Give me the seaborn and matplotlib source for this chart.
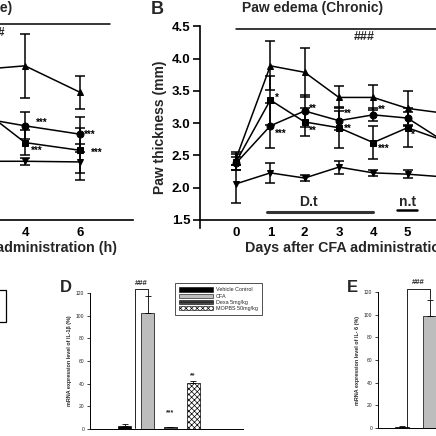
import numpy as np
import pandas as pd
import matplotlib
matplotlib.use("Agg")
import matplotlib.pyplot as plt
import seaborn as sns
from matplotlib.patches import Rectangle, Patch

sns.set_theme(style="ticks")
plt.rcParams['font.family'] = ['Liberation Sans', 'DejaVu Sans']

# ---------------- data ----------------
groups = ["Vehicle Control", "CFA", "Dexa 5mg/kg", "MOPBS 50mg/kg"]

# Panel A (acute, hours) - only the visible part
hours = [2, 4, 6]
acute_cfa = [3.82, 3.89, 3.48]
acute_cfa_err = [0.40, 0.50, 0.26]
acute_mopbs = [3.11, 2.96, 2.83]
acute_mopbs_err = [0.20, 0.21, 0.27]
acute_dexa = [3.36, 2.70, 2.58]
acute_dexa_err = [0.25, 0.20, 0.35]
acute_veh = [2.41, 2.41, 2.40]
acute_veh_err = [0.05, 0.05, 0.28]

# Panel B (chronic, days)
days = [0, 1, 2, 3, 4, 5, 6]
chr_cfa = [2.45, 3.89, 3.79, 3.40, 3.40, 3.23, 3.16]
chr_cfa_err = [0.10, 0.38, 0.38, 0.17, 0.20, 0.27, 0.20]
chr_dexa = [2.40, 3.36, 3.02, 2.93, 2.70, 2.93, 2.74]
chr_dexa_err = [0.12, 0.38, 0.22, 0.32, 0.25, 0.30, 0.20]
chr_mopbs = [2.38, 2.96, 3.19, 3.04, 3.13, 3.08, 2.74]
chr_mopbs_err = [0.10, 0.35, 0.25, 0.15, 0.10, 0.10, 0.15]
chr_veh = [2.06, 2.23, 2.15, 2.32, 2.23, 2.21, 2.17]
chr_veh_err = [0.30, 0.15, 0.05, 0.10, 0.05, 0.06, 0.05]

# Panel D (IL-1b)
il1b = [3.0, 102.0, 1.5, 41.0]
il1b_err = [1.0, 15.0, 0.5, 1.5]
# Panel E (IL-6), visible bars
il6_groups = ["Vehicle Control", "CFA"]
il6 = [1.0, 99.0]
il6_err = [0.5, 14.0]

thick_ticks = [1.5, 2.0, 2.5, 3.0, 3.5, 4.0, 4.5]
thick_ticklabels = ["1.5", "2.0", "2.5", "3.0", "3.5", "4.0", "4.5"]
hour_ticks = [4, 6]
bar_ticks = [0, 20, 40, 60, 80, 100, 120]

# ---------------- layout helpers ----------------
W = H = 436.0
fig = plt.figure(figsize=(4.36, 4.36), dpi=100)


def ax_px(left, top, width, height):
    return fig.add_axes([left / W, 1 - (top + height) / H, width / W, height / H])


marker_map = {"CFA": "^", "Dexa": "s", "MOPBS": "o", "Vehicle": "v"}
LW = 1.1
TICK_FS = 9.5


def line_panel(ax, x, series):
    rows = []
    for name, vals, errs in series:
        for xi, v in zip(x, vals):
            rows.append({"x": xi, "y": v, "g": name})
    df = pd.DataFrame(rows)
    sns.lineplot(data=df, x="x", y="y", style="g", markers=marker_map,
                 dashes=False, color="black", legend=False, ax=ax,
                 markersize=5, linewidth=LW, markeredgecolor="black",
                 clip_on=False)
    for name, vals, errs in series:
        ax.errorbar(x, vals, yerr=errs, fmt="none", ecolor="black",
                    elinewidth=LW, capsize=3.5, capthick=LW, clip_on=False)
    for s in ["top", "right"]:
        ax.spines[s].set_visible(False)
    ax.spines["bottom"].set_position(("data", 1.5))
    for s in ["left", "bottom"]:
        ax.spines[s].set_linewidth(1.2)
        ax.spines[s].set_color("black")
    ax.set_ylim(1.38, 4.5)
    ax.set_yticks(thick_ticks)
    ax.set_yticklabels(thick_ticklabels)
    ax.tick_params(axis="y", length=5, width=1.2, labelsize=TICK_FS, pad=2, colors="black")
    ax.tick_params(axis="x", length=0, labelsize=TICK_FS, pad=5, colors="black")
    for lab in ax.get_xticklabels() + ax.get_yticklabels():
        lab.set_fontweight("bold")
    ax.set_xlabel("")
    ax.set_ylabel("")
    ax.patch.set_alpha(0)


star_kw = dict(fontsize=7, fontweight="bold", va="center", ha="left", color="black")

# ---------------- Panel A ----------------
axA = ax_px(25 - 5 * 27.5, 26.5, 8.93 * 27.5, 201.2)
axA.set_xlim(-1, 7.93)
line_panel(axA, hours, [("CFA", acute_cfa, acute_cfa_err),
                        ("MOPBS", acute_mopbs, acute_mopbs_err),
                        ("Dexa", acute_dexa, acute_dexa_err),
                        ("Vehicle", acute_veh, acute_veh_err)])
axA.set_xticks(hour_ticks)
axA.set_xticklabels([str(h) for h in hour_ticks])
for lab in axA.get_xticklabels():
    lab.set_fontweight("bold")
axA.tick_params(axis="y", labelleft=False)
axA.plot([-1, 7.1], [4.54, 4.54], color="black", lw=LW, clip_on=False)
fig.text(5 / W, 1 - 33 / H, "###", ha="right", va="center", fontsize=8.5, fontweight="bold")
axA.text(4.38, 3.0, "***", **star_kw)
axA.text(6.15, 2.82, "***", **star_kw)
axA.text(4.22, 2.57, "***", **star_kw)
axA.text(6.4, 2.54, "***", **star_kw)
fig.text(12 / W, 1 - 8 / H, "Paw edema (Acute)", ha="right", va="center",
         fontsize=10, fontweight="bold")
fig.text(117 / W, 1 - 248 / H, "Time after carrageenan administration (h)",
         ha="right", va="center", fontsize=10.3, fontweight="bold")

# ---------------- Panel B ----------------
axB = ax_px(200, 26.5, 8.55 * 34.3, 201.2)
axB.set_xlim(-1.05, 7.5)
line_panel(axB, days, [("CFA", chr_cfa, chr_cfa_err),
                       ("Dexa", chr_dexa, chr_dexa_err),
                       ("MOPBS", chr_mopbs, chr_mopbs_err),
                       ("Vehicle", chr_veh, chr_veh_err)])
axB.set_xticks(days[:6])
axB.set_xticklabels([str(d) for d in days[:6]])
for lab in axB.get_xticklabels():
    lab.set_fontweight("bold")
axB.set_ylabel("Paw thickness (mm)", fontsize=10, fontweight="bold", labelpad=3)
axB.plot([0, 7.5], [4.46, 4.46], color="black", lw=LW, clip_on=False)
axB.text(3.75, 4.34, "###", ha="center", va="center", fontsize=9, fontweight="bold")
axB.text(1.14, 3.40, "*", **star_kw)
axB.text(1.12, 2.84, "***", **star_kw)
axB.text(2.12, 3.22, "**", **star_kw)
axB.text(2.12, 2.88, "**", **star_kw)
axB.text(3.15, 3.14, "**", **star_kw)
axB.text(3.15, 2.91, "**", **star_kw)
axB.text(4.15, 3.20, "**", **star_kw)
axB.text(4.15, 2.60, "***", **star_kw)
axB.text(5.1, 2.82, "*", **star_kw)
axB.plot([0.9, 4.0], [1.62, 1.62], color="#333333", lw=2.2, clip_on=False)
axB.text(2.1, 1.78, "D.t", ha="center", va="center", fontsize=10, fontweight="bold")
axB.plot([4.7, 5.28], [1.65, 1.65], color="black", lw=1.8, clip_on=False)
axB.text(5.0, 1.78, "n.t", ha="center", va="center", fontsize=10, fontweight="bold")
fig.text(313 / W, 1 - 8 / H, "Paw edema (Chronic)", ha="center", va="center",
         fontsize=10, fontweight="bold")
fig.text(157 / W, 1 - 9 / H, "B", ha="center", va="center", fontsize=13, fontweight="bold")
fig.text(245 / W, 1 - 248 / H, "Days after CFA administration", ha="left", va="center",
         fontsize=10.3, fontweight="bold")

# ---------------- Panel C remnant (legend box edge) ----------------
fig.patches.append(Rectangle((-10 / W, 1 - 322 / H), 16 / W, 32 / H, transform=fig.transFigure,
                             fill=False, edgecolor="black", lw=0.9))

# ---------------- bar panels ----------------
face = {"Vehicle Control": "black", "CFA": "#bdbdbd",
        "Dexa 5mg/kg": "#4a4a4a", "MOPBS 50mg/kg": "white"}
hatch = {"Vehicle Control": "", "CFA": "", "Dexa 5mg/kg": "----", "MOPBS 50mg/kg": "xxxxxx"}


def bar_panel(ax, cats, vals, errs, width):
    sns.barplot(x=cats, y=vals, hue=cats, palette=[face[c] for c in cats],
                order=cats, hue_order=cats, width=width, edgecolor="black",
                linewidth=0.5, legend=False, ax=ax, errorbar=None, saturation=1)
    for p, c in zip(ax.patches, cats):
        p.set_hatch(hatch[c])
    ax.errorbar(range(len(cats)), vals, yerr=[[0] * len(errs), errs], fmt="none",
                ecolor="black", elinewidth=0.6, capsize=2.2, capthick=0.6)
    for s in ["top", "right"]:
        ax.spines[s].set_visible(False)
    for s in ["left", "bottom"]:
        ax.spines[s].set_linewidth(0.7)
        ax.spines[s].set_color("black")
    ax.set_ylim(0, 120)
    ax.set_yticks(bar_ticks)
    ax.tick_params(axis="y", length=2.5, width=0.6, labelsize=3.6, pad=1.5, colors="#222222")
    ax.tick_params(axis="x", length=0, labelbottom=False)
    ax.patch.set_alpha(0)


plt.rcParams['hatch.linewidth'] = 0.5
axD = ax_px(90, 293, 153, 136)
bar_panel(axD, groups, il1b, il1b_err, 0.57)
axD.set_xlim(-1.54, 5.2)
axD.set_ylabel("mRNA expression level of IL-1β (%)", fontsize=3.9, fontweight="bold", labelpad=3)
axD.plot([0.45, 0.45, 1.0, 1.0], [0.5, 123.5, 123.5, 117.5], color="black", lw=0.6, clip_on=False)
axD.text(0.72, 128, "###", ha="center", va="center", fontsize=5.5, fontweight="bold")
axD.text(2, 14, "***", ha="center", va="center", fontsize=5, fontweight="bold")
axD.text(3, 47, "**", ha="center", va="center", fontsize=5, fontweight="bold")
handles = [Patch(facecolor=face[g], edgecolor="black", hatch=hatch[g], lw=0.4) for g in groups]
axD.legend(handles, groups, loc="upper left", bbox_to_anchor=(175 / W, 1 - 283 / H),
           bbox_transform=fig.transFigure, fontsize=3.9, handlelength=6.2, handleheight=0.9,
           frameon=True, fancybox=False, edgecolor="black", borderpad=0.8,
           labelspacing=0.2, handletextpad=0.6, borderaxespad=0)
axD.get_legend().get_frame().set_linewidth(0.6)
fig.text(66 / W, 1 - 287 / H, "D", ha="center", va="center", fontsize=12, fontweight="bold")

axE = ax_px(378, 292, 150, 136)
bar_panel(axE, il6_groups, il6, il6_err, 0.5)
axE.set_xlim(-0.86, 4.5)
axE.set_ylabel("mRNA expression level of IL- 6 (%)", fontsize=3.9, fontweight="bold", labelpad=3)
axE.plot([0.18, 0.18, 1.0, 1.0], [0.5, 122.6, 122.6, 113.5], color="black", lw=0.6, clip_on=False)
axE.text(0.57, 128, "###", ha="center", va="center", fontsize=5.5, fontweight="bold")
fig.text(352 / W, 1 - 287 / H, "E", ha="center", va="center", fontsize=12, fontweight="bold")

fig.savefig("out.png", dpi=100, facecolor="white")
